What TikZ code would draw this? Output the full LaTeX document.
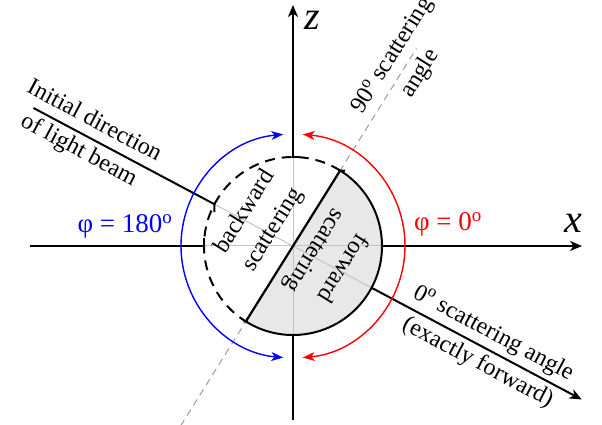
\documentclass[tikz,border=0pt]{standalone}
\usepackage{fontspec}
\setmainfont{Liberation Serif}
\usetikzlibrary{arrows.meta}
\definecolor{ink}{HTML}{000000}
\definecolor{phiblue}{HTML}{0000FF}
\definecolor{phired}{HTML}{FF0000}
\definecolor{guide}{HTML}{C4C4C4}
\definecolor{halffill}{HTML}{E8E8E8}

\begin{document}
\begin{tikzpicture}[x=1pt, y=1pt]
  \def\R{89}       % radius of the scattering disk
  \def\Rphi{112}   % radius of the two phi arcs
  \def\B{-28}      % forward direction of the beam
  \def\D{58}       % the 90 degree scattering direction
  \useasboundingbox (-293,-179) rectangle (309,246);
  \tikzset{
    axis/.style={ink, line width=2pt},
    tip/.style={-{Stealth[length=12pt, width=10pt, inset=3.5pt]}},
    guideline/.style={guide, line width=1pt},
    phiarc/.style={line width=1.4pt,
                   {Stealth[length=12pt, width=9pt, inset=3.5pt]}-{Stealth[length=12pt, width=9pt, inset=3.5pt]}},
    lab/.style={font=\fontsize{24}{33}\selectfont, align=center, inner sep=0pt},
    philab/.style={font=\fontsize{27}{32}\selectfont, inner sep=0pt},
    axlab/.style={font=\fontsize{40}{42}\selectfont\itshape, inner sep=0pt}}

  % ---------- end points of the lines ----------
  \coordinate (O)        at (0,0);
  \coordinate (xleft)    at (-263,0);
  \coordinate (xright)   at (289,0);
  \coordinate (ztop)     at (0,241);
  \coordinate (zbot)     at (0,-174);
  \coordinate (beamback) at (152:294);
  \coordinate (beamfwd)  at (\B:327);
  \coordinate (sidetop)  at (\D:233);
  \coordinate (sidebot)  at (\D+180:212);
  \coordinate (diamtop)  at (\D:\R);
  \coordinate (diambot)  at (\D+180:\R);

  % ========== the forward half, filled first ==========
  \fill[halffill] (diamtop) arc[start angle=\D, end angle=\D-180, radius=\R] -- cycle;

  % ---------- grey guides inside the disk ----------
  \draw[guideline] (-\R,0) -- (\R,0);
  \draw[guideline] (0,-\R) -- (0,\R);
  \draw[guideline] (152:\R) -- (\B:\R);
  \draw[guide!80!black, line width=1pt, dash pattern=on 7pt off 5pt] (sidebot) -- (sidetop);

  % ---------- axes and beam, black outside the disk ----------
  \draw[axis] (xleft) -- (-\R,0) -- ++(0,8);
  \draw[axis, tip] (\R,0) -- (xright);
  \draw[axis, tip] (7,\R) -- (0,\R) -- (ztop);
  \draw[axis] (0,-\R) -- (zbot);
  \draw[axis] (beamback) -- (152:\R) -- ++(0,-8);
  \draw[axis, tip] (\B:\R) -- (beamfwd);

  % ---------- the disk: solid forward, dashed backward ----------
  \draw[ink, line width=2pt] ([xshift=5pt]diamtop) -- (diamtop)
    arc[start angle=\D, end angle=\D-180, radius=\R];
  \draw[ink, line width=2pt, dash pattern=on 10pt off 7pt] (diamtop)
    arc[start angle=\D, end angle=\D+180, radius=\R] -- ++(-8,0);
  \draw[ink, line width=2.2pt] (diambot) -- (diamtop);
  \draw[ink, line width=1.6pt, dash pattern=on 3pt off 2pt, shift={(\D+90:1.8)}]
    (diambot) -- (diamtop);

  % ---------- the phi arcs ----------
  \draw[phiarc, phiblue] (95:\Rphi) arc[start angle=95, end angle=265, radius=\Rphi];
  \draw[phiarc, phired]  (85:\Rphi) arc[start angle=85, end angle=-85, radius=\Rphi];

  % ========== labels ==========
  \node[axlab] (zlab) at (19,226) {z};
  \node[axlab] (xlab) at (280,23) {x};
  \node[philab, text=phiblue] (phiback) at (-168,20) {φ = 180\textsuperscript{o}};
  \node[philab, text=phired]  (phifwd)  at (155,22)  {φ = 0\textsuperscript{o}};
  \node[lab, rotate=\B] (beamlab) at (152:234) {Initial direction\\of light beam};
  \node[lab, rotate=\B] (fwdlab)  at (\B:218)  {0\textsuperscript{o} scattering angle\\(exactly forward)};
  \node[lab, rotate=\D] (sidelab) at (\D:214)  {90\textsuperscript{o} scattering\\angle};
  \node[lab, rotate=\D] (backlab) at (-34,25)  {backward\\scattering};
  \node[lab, rotate=\D-180] (forelab) at (35,-13) {forward\\scattering};
\end{tikzpicture}
\end{document}
